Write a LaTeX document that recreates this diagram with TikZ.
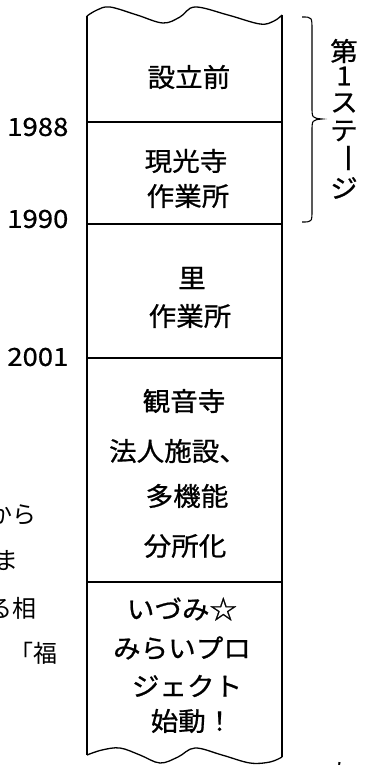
\documentclass[tikz,border=0pt]{standalone}
\usepackage{fontspec}
\newfontfamily\jp[FakeStretch=1.06,FakeBold=0.8]{Noto Sans CJK JP}
\newfontfamily\jpd[FakeStretch=1.1,FakeBold=0.6]{Noto Sans CJK JP}
\newfontfamily\jpb{Noto Sans CJK JP}
\begin{document}
\begin{tikzpicture}[x=1pt,y=-1pt,line width=1.3pt,
  lbl/.style={font=\jp\fontsize{26}{26}\selectfont,inner sep=0pt},
  yr/.style={font=\jpd\fontsize{25}{25}\selectfont,inner sep=0pt,anchor=east},
  vch/.style={lbl},
  frag/.style={font=\jpb\fontsize{24}{24}\selectfont,inner sep=0pt,anchor=west}]
\useasboundingbox (0,0) rectangle (367,765);
% background text fragments
\node[frag] (f1) at (-12,515) {から};
\node[frag] (f2) at (-6,561) {ま};
\node[frag] (f3) at (-12,608) {る相};
\node[frag] (f4) at (9,653) {「福};
\node[frag] (f5) at (330,772) {た};
% column outline
\coordinate (tl) at (87,16);
\coordinate (tr) at (282,15);
\coordinate (bl) at (87,755);
\coordinate (br) at (282,757);
\draw (bl) -- (tl);
\draw (tr) -- (br);
\draw plot[smooth,tension=0.6] coordinates {(87,16) (97,10) (110,7) (137,15) (163,23) (180,17) (195,7) (228,15) (260,24) (274,21) (282,15)};
\draw plot[smooth,tension=0.6] coordinates {(87,755) (102,750) (120,748) (140,755) (160,763) (178,757) (195,748) (222,755) (250,763) (270,762) (282,757)};
% dividers
\foreach \y/\n in {122/a,224/b,358/c,582/d}{
  \draw (87,\y) coordinate (L\n) -- (282,\y) coordinate (R\n);
}
% years
\node[yr] (y1) at (69,127) {1988};
\node[yr] (y2) at (69,219) {1990};
\node[yr] (y3) at (69,357) {2001};
% box texts
\node[lbl] (t1) at (189,77) {設立前};
\node[lbl] (t2a) at (186,161) {現光寺};
\node[lbl] (t2b) at (188,196) {作業所};
\node[lbl] (t3a) at (192,278) {里};
\node[lbl] (t3b) at (190,316) {作業所};
\node[lbl] (t4a) at (184,401) {観音寺};
\node[lbl] (t4b) at (178,451) {法人施設、};
\node[lbl] (t4c) at (187,496) {多機能};
\node[lbl] (t4d) at (185,546) {分所化};
\node[lbl] (t5a) at (182,609) {いづみ☆};
\node[lbl] (t5b) at (182,648) {みらいプロ};
\node[lbl] (t5c) at (187,686) {ジェクト};
\node[lbl] (t5d) at (192,721) {始動！};
% brace
\draw[line width=1.1pt] (302,17) .. controls (312,17) .. (312,30) -- (312,106)
  .. controls (312,118) .. (322,119) .. controls (312,120) .. (312,132) -- (312,210)
  .. controls (312,222) .. (302,222);
% vertical label
\node[vch] (v1) at (344,51) {第};
\node[vch] (v2) at (344,76) {1};
\node[vch] (v3) at (344,103) {ス};
\node[vch] (v4) at (344,131) {テ};
\node[vch,rotate=-90,xscale=1.1] (v5) at (344,158) {ー};
\node[vch] (v6) at (344,188) {ジ};
\end{tikzpicture}
\end{document}
